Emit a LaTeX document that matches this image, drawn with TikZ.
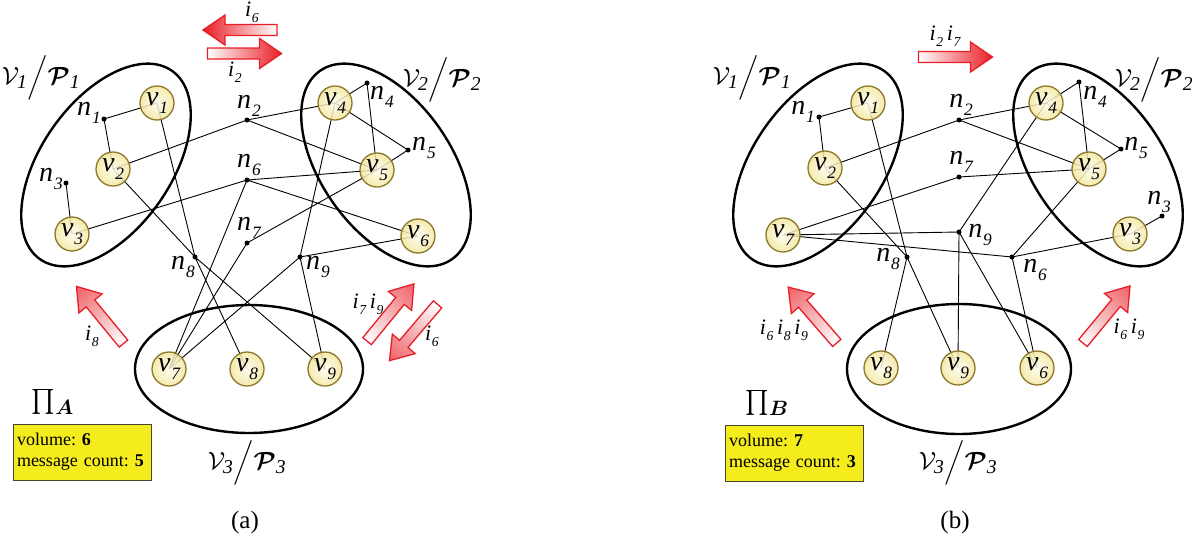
\documentclass[tikz,border=0pt]{standalone}
\usepackage{exscale}
\usepackage{fontspec}
\setmainfont{Liberation Serif}
\usepackage{bm}
\usepackage{graphicx}
\usetikzlibrary{backgrounds}
\definecolor{vin}{RGB}{255,253,238}
\definecolor{vout}{RGB}{242,230,160}
\definecolor{vbd}{RGB}{140,120,40}
\definecolor{arred}{RGB}{232,30,38}
\definecolor{boxy}{RGB}{245,236,30}
\definecolor{boxbd}{RGB}{70,70,50}
\newcommand{\lb}[2]{#1\kern0.03em\raisebox{-0.28em}{\scalebox{0.62}{#2}}}
\newcommand{\blockarr}[4]{%
  \begin{scope}[transform canvas={shift={(#1,#2)},rotate=#3}]
    \shade[left color=white,right color=#4,draw=arred,line width=1.3]
      (-37,-5.5) -- (15,-5.5) -- (15,-15) -- (37,0) -- (15,15) -- (15,5.5) -- (-37,5.5) -- cycle;
  \end{scope}}
\tikzset{
  vnode/.style={circle,minimum size=34,inner sep=0,draw=vbd,line width=1.3,
    inner color=vin,outer color=vout,fill opacity=0.85,text opacity=1,
    font=\fontsize{28}{28}\selectfont\itshape},
  dot/.style={circle,fill=black,inner sep=0,minimum size=5},
  nlab/.style={inner sep=0,font=\fontsize{28}{28}\selectfont\itshape},
  ilab/.style={inner sep=0,font=\fontsize{22}{22}\selectfont\itshape},
  plab/.style={inner sep=0,font=\fontsize{28}{28}\selectfont},
  edge/.style={line width=0.9},
  part/.style={line width=2.4},
  infobox/.style={fill=boxy,draw=boxbd,line width=0.9,minimum width=138,minimum height=56,
    text width=130,align=left,inner xsep=4,inner ysep=5,font=\fontsize{18}{21}\selectfont\frenchspacing},
  captext/.style={inner sep=0,font=\fontsize{25}{25}\selectfont}
}
\begin{document}
\begin{tikzpicture}[x=1pt,y=-1pt]
\useasboundingbox (0,0) rectangle (1198,539);
% ---------------- (a) ----------------
\draw[part,rotate around={55:(106,165)}] (106,165) ellipse (115 and 65);
\draw[part,rotate around={-55:(386,165)}] (386,165) ellipse (115 and 65);
\draw[part] (249,369) ellipse (114 and 64);
\node[vnode] (av1) at (157,103) {\lb{v}{1}};
\node[vnode] (av2) at (113,169) {\lb{v}{2}};
\node[vnode] (av3) at (72,234) {\lb{v}{3}};
\node[vnode] (av4) at (335,103) {\lb{v}{4}};
\node[vnode] (av5) at (377,170) {\lb{v}{5}};
\node[vnode] (av6) at (418,236) {\lb{v}{6}};
\node[vnode] (av7) at (169,369) {\lb{v}{7}};
\node[vnode] (av8) at (247,369) {\lb{v}{8}};
\node[vnode] (av9) at (325,369) {\lb{v}{9}};
\node[dot] (an1) at (104,119) {};
\node[dot] (an2) at (247,120) {};
\node[dot] (an3) at (66,183) {};
\node[dot] (an4) at (367,83) {};
\node[dot] (an5) at (408,150) {};
\node[dot] (an6) at (247,180) {};
\node[dot] (an7) at (247,243) {};
\node[dot] (an8) at (195,257) {};
\node[dot] (an9) at (300,257) {};
\node[nlab] (an1l) at (89,113) {\lb{n}{1}};
\node[nlab] (an2l) at (249,106) {\lb{n}{2}};
\node[nlab] (an3l) at (51,179) {\lb{n}{3}};
\node[nlab] (an4l) at (382,97) {\lb{n}{4}};
\node[nlab] (an5l) at (424,148) {\lb{n}{5}};
\node[nlab] (an6l) at (249,165) {\lb{n}{6}};
\node[nlab] (an7l) at (249,228) {\lb{n}{7}};
\node[nlab] (an8l) at (183,267) {\lb{n}{8}};
\node[nlab] (an9l) at (318,267) {\lb{n}{9}};
\begin{pgfonlayer}{background}
\draw[edge] (an1.center) -- (av1.center) (an1.center) -- (av2.center)
  (an3.center) -- (av3.center)
  (an2.center) -- (av2.center) (an2.center) -- (av4.center) (an2.center) -- (av5.center)
  (an6.center) -- (av3.center) (an6.center) -- (av5.center) (an6.center) -- (av6.center) (an6.center) -- (av7.center)
  (an7.center) -- (av7.center) (an7.center) -- (av5.center)
  (an8.center) -- (av1.center) (an8.center) -- (av2.center) (an8.center) -- (av8.center) (an8.center) -- (av9.center)
  (an9.center) -- (av4.center) (an9.center) -- (av6.center) (an9.center) -- (av7.center) (an9.center) -- (av9.center)
  (an4.center) -- (av4.center) (an4.center) -- (av5.center)
  (an5.center) -- (av4.center) (an5.center) -- (av5.center);
\end{pgfonlayer}
\node[plab] (aP1) at (41,78) {$\mathcal{V}_{\mathit{1}}\Big/\bm{\mathcal{P}}_{\mathit{1}}$};
\node[plab] (aP2) at (442,80) {$\mathcal{V}_{\mathit{2}}\Big/\bm{\mathcal{P}}_{\mathit{2}}$};
\node[plab] (aP3) at (247,463) {$\mathcal{V}_{\mathit{3}}\Big/\bm{\mathcal{P}}_{\mathit{3}}$};
\blockarr{240}{30}{180}{arred}
\blockarr{244.5}{53.5}{0}{arred}
\blockarr{100}{315}{129.4}{arred!70}
\blockarr{390.5}{312.5}{50.7}{arred!70}
\blockarr{413.5}{332.5}{-130.5}{arred!70}
\node[ilab] (ai6t) at (252,12) {\lb{i}{6}};
\node[ilab] (ai2) at (235,72) {\lb{i}{2}};
\node[ilab] (ai8) at (92,336) {\lb{i}{8}};
\node[ilab] (ai79) at (368,304) {\lb{i}{7}\,\lb{i}{9}};
\node[ilab] (ai6r) at (432,336) {\lb{i}{6}};
\node[plab] (api) at (53,402) {$\textstyle\prod_{\bm{A}}$};
\node[infobox] (abox) at (82,452) {volume: \textbf{6}\\message count: \textbf{5}};
\node[captext] (acap) at (245,522) {(a)};
% ---------------- (b) ----------------
\draw[part,rotate around={55:(818,165)}] (818,165) ellipse (115 and 65);
\draw[part,rotate around={-55:(1098,165)}] (1098,165) ellipse (115 and 65);
\draw[part] (959,369) ellipse (112 and 65);
\node[vnode] (bv1) at (868,103) {\lb{v}{1}};
\node[vnode] (bv2) at (825,168) {\lb{v}{2}};
\node[vnode] (bv7) at (783,235) {\lb{v}{7}};
\node[vnode] (bv4) at (1046,103) {\lb{v}{4}};
\node[vnode] (bv5) at (1089,169) {\lb{v}{5}};
\node[vnode] (bv3) at (1130,234) {\lb{v}{3}};
\node[vnode] (bv8) at (881,368) {\lb{v}{8}};
\node[vnode] (bv9) at (958,368) {\lb{v}{9}};
\node[vnode] (bv6) at (1037,368) {\lb{v}{6}};
\node[dot] (bn1) at (819,117) {};
\node[dot] (bn2) at (959,120) {};
\node[dot] (bn3) at (1162,216) {};
\node[dot] (bn4) at (1079,82) {};
\node[dot] (bn5) at (1121,149) {};
\node[dot] (bn6) at (1012,257) {};
\node[dot] (bn7) at (959,177) {};
\node[dot] (bn8) at (907,257) {};
\node[dot] (bn9) at (959,232) {};
\node[nlab] (bn1l) at (803,112) {\lb{n}{1}};
\node[nlab] (bn2l) at (961,105) {\lb{n}{2}};
\node[nlab] (bn3l) at (1159,202) {\lb{n}{3}};
\node[nlab] (bn4l) at (1095,97) {\lb{n}{4}};
\node[nlab] (bn5l) at (1136,148) {\lb{n}{5}};
\node[nlab] (bn6l) at (1035,270) {\lb{n}{6}};
\node[nlab] (bn7l) at (961,162) {\lb{n}{7}};
\node[nlab] (bn8l) at (888,259) {\lb{n}{8}};
\node[nlab] (bn9l) at (980,235) {\lb{n}{9}};
\begin{pgfonlayer}{background}
\draw[edge] (bn1.center) -- (bv1.center) (bn1.center) -- (bv2.center)
  (bn3.center) -- (bv3.center)
  (bn2.center) -- (bv2.center) (bn2.center) -- (bv4.center) (bn2.center) -- (bv5.center)
  (bn7.center) -- (bv7.center) (bn7.center) -- (bv5.center)
  (bn9.center) -- (bv7.center) (bn9.center) -- (bv4.center) (bn9.center) -- (bv9.center) (bn9.center) -- (bv6.center)
  (bn6.center) -- (bv7.center) (bn6.center) -- (bv3.center) (bn6.center) -- (bv5.center) (bn6.center) -- (bv6.center)
  (bn8.center) -- (bv1.center) (bn8.center) -- (bv2.center) (bn8.center) -- (bv8.center) (bn8.center) -- (bv9.center)
  (bn4.center) -- (bv4.center) (bn4.center) -- (bv5.center)
  (bn5.center) -- (bv4.center) (bn5.center) -- (bv5.center);
\end{pgfonlayer}
\node[plab] (bP1) at (752,78) {$\mathcal{V}_{\mathit{1}}\Big/\bm{\mathcal{P}}_{\mathit{1}}$};
\node[plab] (bP2) at (1154,80) {$\mathcal{V}_{\mathit{2}}\Big/\bm{\mathcal{P}}_{\mathit{2}}$};
\node[plab] (bP3) at (958,463) {$\mathcal{V}_{\mathit{3}}\Big/\bm{\mathcal{P}}_{\mathit{3}}$};
\blockarr{955.5}{57}{0}{arred}
\blockarr{812.5}{315}{131}{arred!70}
\blockarr{1106.5}{314.5}{50.5}{arred!70}
\node[ilab] (bi27) at (945,36) {\lb{i}{2}\,\lb{i}{7}};
\node[ilab] (bi689) at (784,330) {\lb{i}{6}\,\lb{i}{8}\,\lb{i}{9}};
\node[ilab] (bi69) at (1129,329) {\lb{i}{6}\,\lb{i}{9}};
\node[plab] (bpi) at (767,403) {$\textstyle\prod_{\bm{B}}$};
\node[infobox] (bbox) at (794,453) {volume: \textbf{7}\\message count: \textbf{3}};
\node[captext] (bcap) at (955,522) {(b)};
\end{tikzpicture}
\end{document}
